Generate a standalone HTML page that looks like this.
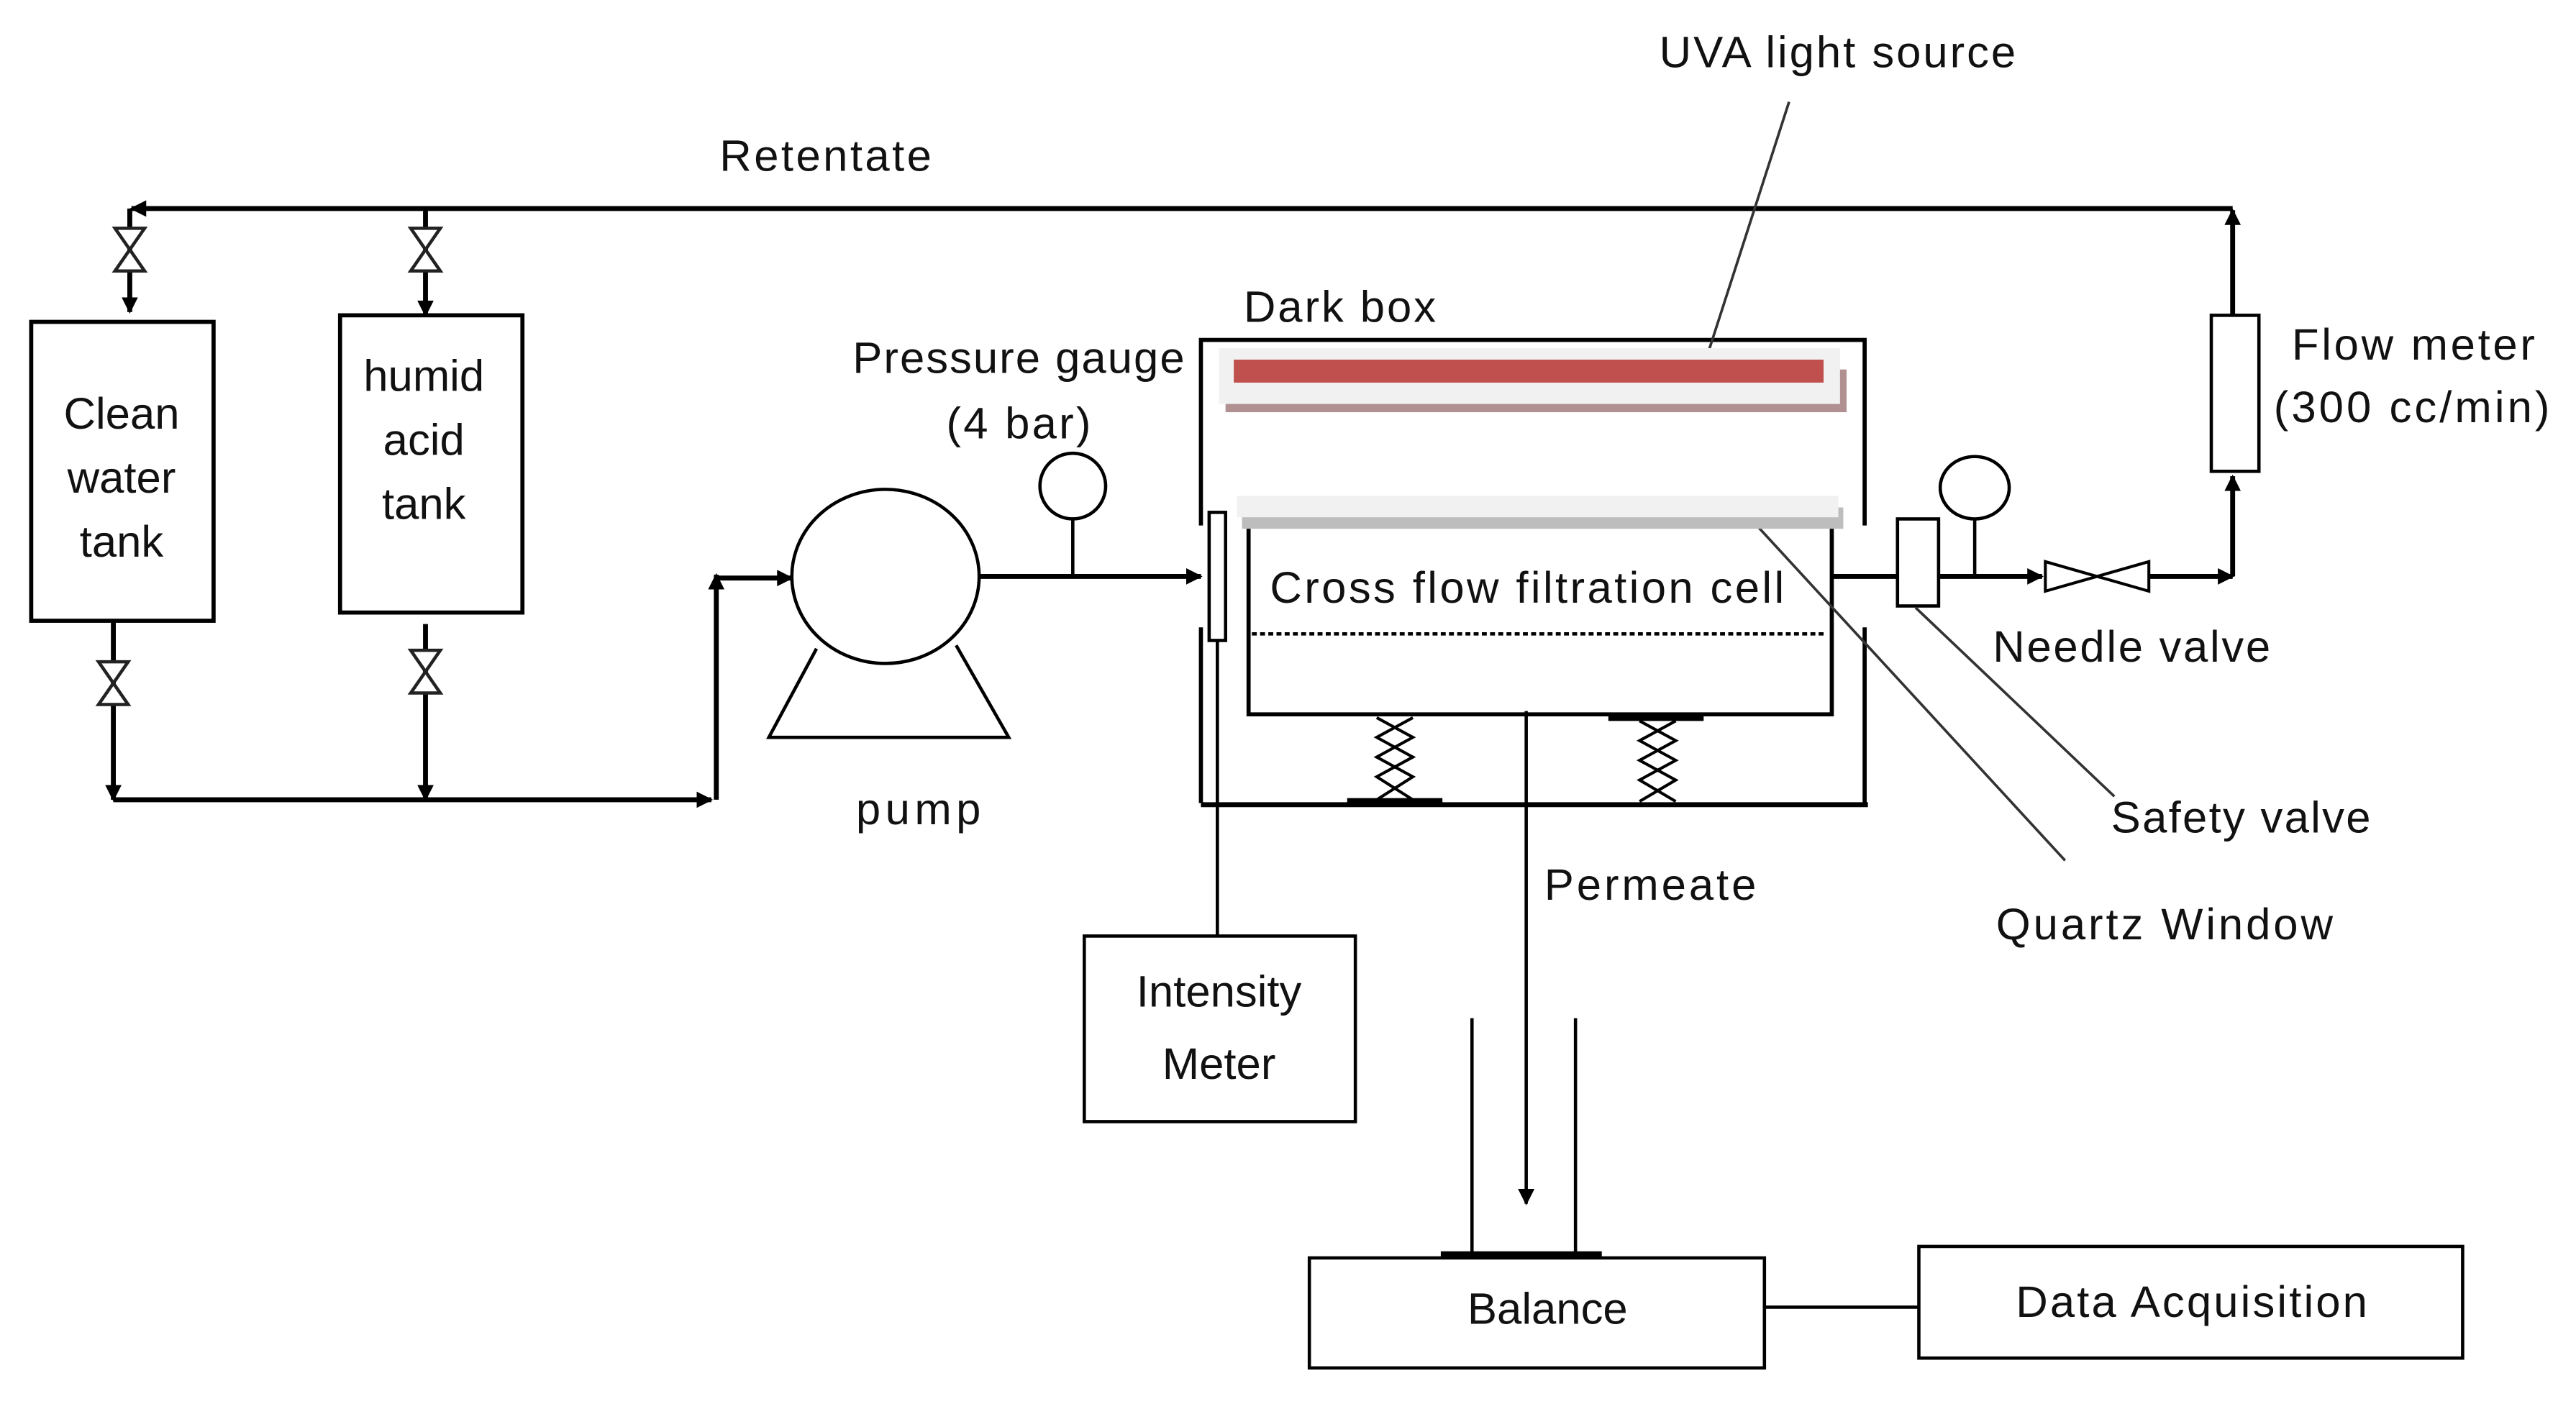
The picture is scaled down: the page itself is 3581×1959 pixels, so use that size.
<!DOCTYPE html>
<html><head><meta charset="utf-8"><style>
html,body{margin:0;padding:0;background:#fff;}
svg{display:block;}
text{font-family:"Liberation Sans",sans-serif;font-size:27px;fill:#111;}
</style></head><body>
<svg width="3581" height="1959" viewBox="0 0 1568 858" preserveAspectRatio="none" xmlns="http://www.w3.org/2000/svg">
<defs>
<marker id="a" markerWidth="10" markerHeight="10" refX="9" refY="5" orient="auto" markerUnits="userSpaceOnUse"><path d="M0,0 L10,5 L0,10 z" fill="#000"/></marker>
<g id="vv"><path d="M-9,-13 L9,-13 L0,0 Z M-9,13 L9,13 L0,0 Z" fill="#fff" stroke="#222" stroke-width="2"/></g>
</defs>
<g stroke="#000" stroke-width="3" fill="none">
<line x1="1359" y1="127" x2="80" y2="127" marker-end="url(#a)"/>
<line x1="1359" y1="192" x2="1359" y2="128" marker-end="url(#a)"/>
<line x1="79" y1="127" x2="79" y2="190" marker-end="url(#a)"/>
<line x1="259" y1="128" x2="259" y2="192" marker-end="url(#a)"/>
<rect x="19" y="196" width="111" height="182" stroke-width="2.5"/>
<rect x="207" y="192" width="111" height="181" stroke-width="2.5"/>
<line x1="69" y1="378" x2="69" y2="487" marker-end="url(#a)"/>
<line x1="259" y1="380" x2="259" y2="487" marker-end="url(#a)"/>
<line x1="69" y1="487" x2="433" y2="487" marker-end="url(#a)"/>
<line x1="436" y1="487" x2="436" y2="350" marker-end="url(#a)"/>
<line x1="436" y1="352" x2="482" y2="352" marker-end="url(#a)"/>
<ellipse cx="539" cy="351" rx="57" ry="53" stroke-width="2"/>
<path d="M497,395 L468,449 L614,449 L582,393" stroke-width="2"/>
<line x1="596" y1="351" x2="731" y2="351" marker-end="url(#a)"/>
<line x1="653" y1="315" x2="653" y2="351" stroke-width="2"/>
<circle cx="653" cy="296" r="20" stroke-width="2"/>
<path d="M731,320 V207 H1135 V320" stroke-width="2.5"/>
<path d="M731,382 V489 M1135,382 V489" stroke-width="2.5"/>
<line x1="731" y1="490" x2="1137" y2="490"/>
<rect x="736" y="312" width="10" height="78" stroke-width="2"/>
<line x1="741" y1="390" x2="741" y2="570" stroke-width="2"/>
<path d="M760,318 V435 H1115 V318" stroke-width="2.5"/>
<line x1="762" y1="386" x2="1112" y2="386" stroke-width="2" stroke-dasharray="3,2"/>
<line x1="929" y1="433" x2="929" y2="733" stroke-width="2" marker-end="url(#a)"/>
<line x1="820" y1="488" x2="878" y2="488" stroke-width="4"/>
<line x1="979" y1="437" x2="1037" y2="437" stroke-width="4"/>
<path d="M838,437 L860,449 L838,461 L860,473 L838,487 M860,437 L838,449 L860,461 L838,473 L860,487" stroke-width="1.8"/>
<path d="M998,439 L1020,451 L998,463 L1020,475 L998,488 M1020,439 L998,451 L1020,463 L998,475 L1020,488" stroke-width="1.8"/>
<line x1="1115" y1="351" x2="1155" y2="351"/>
<rect x="1155" y="316" width="25" height="53" stroke-width="2"/>
<line x1="1180" y1="351" x2="1243" y2="351" marker-end="url(#a)"/>
<line x1="1202" y1="316" x2="1202" y2="351" stroke-width="2"/>
<ellipse cx="1202" cy="297" rx="21" ry="19" stroke-width="2"/>
<path d="M1245,342 L1308,360 L1308,342 L1245,360 Z" fill="#fff" stroke-width="1.8"/>
<line x1="1308" y1="351" x2="1359" y2="351" marker-end="url(#a)"/>
<line x1="1359" y1="351" x2="1359" y2="290" marker-end="url(#a)"/>
<rect x="1346" y="192" width="29" height="95" stroke-width="2"/>
<g stroke="#333" stroke-width="1.6">
<line x1="1089" y1="62" x2="1040" y2="214"/>
<line x1="1062" y1="312" x2="1257" y2="524"/>
<line x1="1166" y1="370" x2="1287" y2="485"/>
</g>
<line x1="896" y1="620" x2="896" y2="763" stroke-width="2"/>
<line x1="959" y1="620" x2="959" y2="763" stroke-width="2"/>
<line x1="877" y1="764" x2="975" y2="764" stroke-width="4"/>
<rect x="797" y="766" width="277" height="67" stroke-width="2"/>
<line x1="1074" y1="796" x2="1168" y2="796" stroke-width="2"/>
<rect x="1168" y="759" width="331" height="68" stroke-width="2"/>
<rect x="660" y="570" width="165" height="113" stroke-width="2"/>
</g>
<use href="#vv" x="79" y="152"/>
<use href="#vv" x="259" y="152"/>
<use href="#vv" x="69" y="416"/>
<use href="#vv" x="259" y="409"/>
<rect x="746" y="225" width="378" height="26" fill="#b09090"/>
<rect x="742" y="212" width="378" height="34" fill="#f1f1f1"/>
<rect x="751" y="219" width="359" height="14" fill="#c0504d"/>
<rect x="756" y="309" width="366" height="13" fill="#bdbdbd"/>
<rect x="753" y="302" width="366" height="13" fill="#f1f1f1"/>
<text x="1010" y="41" textLength="217">UVA light source</text>
<text x="438" y="104" textLength="129">Retentate</text>
<text x="757" y="196" textLength="117">Dark box</text>
<text x="519" y="227" textLength="202">Pressure gauge</text>
<text x="576" y="267" textLength="88">(4 bar)</text>
<text x="74" y="261" text-anchor="middle">Clean</text>
<text x="74" y="300" text-anchor="middle">water</text>
<text x="74" y="339" text-anchor="middle">tank</text>
<text x="258" y="238" text-anchor="middle">humid</text>
<text x="258" y="277" text-anchor="middle">acid</text>
<text x="258" y="316" text-anchor="middle">tank</text>
<text x="773" y="367" textLength="313">Cross flow filtration cell</text>
<text x="1395" y="219" textLength="148">Flow meter</text>
<text x="1384" y="257" textLength="168">(300 cc/min)</text>
<text x="1213" y="403" textLength="169">Needle valve</text>
<text x="521" y="502" textLength="76">pump</text>
<text x="1285" y="507" textLength="158">Safety valve</text>
<text x="940" y="548" textLength="129">Permeate</text>
<text x="1215" y="572" textLength="205">Quartz Window</text>
<text x="742" y="613" text-anchor="middle">Intensity</text>
<text x="742" y="657" text-anchor="middle">Meter</text>
<text x="942" y="806" text-anchor="middle">Balance</text>
<text x="1227" y="802" textLength="214">Data Acquisition</text>
</svg>
</body></html>
